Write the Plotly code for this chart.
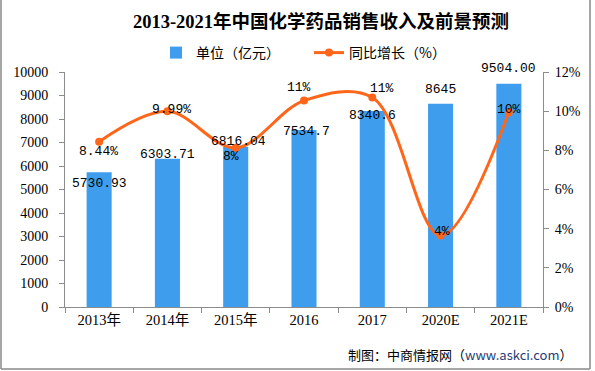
import plotly.graph_objects as go

categories = ["2013年", "2014年", "2015年", "2016", "2017", "2020E", "2021E"]
revenue = [5730.93, 6303.71, 6816.04, 7534.7, 8340.6, 8645, 9504.00]
revenue_labels = ["5730.93", "6303.71", "6816.04", "7534.7", "8340.6", "8645", "9504.00"]
growth = [8.44, 9.99, 8.13, 10.54, 10.70, 3.65, 9.94]
growth_labels = ["8.44%", "9.99%", "8%", "11%", "11%", "4%", "10%"]

# label offsets in pixels (style only)
rev_dx = [0, 0, 3, 2, 0, 0, 0]
rev_dy = [-11, 4, 5, -2, -4, 14, 15]
gr_dx = [-1, 4, -5, -5, 10, 1, 0]
gr_dy = [-10, 2, -9, 13, 9, 4, 3]

W, H = 595, 371
ML, MR, MT, MB = 65, 52, 72, 64
PW, PH = W - ML - MR, H - MT - MB

BLUE = "#3F9DEE"
ORANGE = "#FF661A"
AXIS = "#8C8C8C"
SERIF = "Liberation Serif, Noto Sans CJK SC, serif"
MONO = "Liberation Mono, Noto Sans CJK SC, monospace"

fig = go.Figure()
fig.add_trace(go.Bar(
    x=categories, y=revenue, name="单位（亿元）",
    marker=dict(color=BLUE, line=dict(width=0)), width=0.367,
))
fig.add_trace(go.Scatter(
    x=categories, y=growth, name="同比增长（%）", yaxis="y2",
    mode="lines+markers",
    line=dict(color=ORANGE, width=3, shape="spline", smoothing=1.0),
    marker=dict(color=ORANGE, size=8),
))

ann = []
for i, c in enumerate(categories):
    ann.append(dict(x=i, y=revenue[i], xref="x", yref="y", text=revenue_labels[i],
                    showarrow=False, xanchor="center", yanchor="middle",
                    xshift=rev_dx[i], yshift=rev_dy[i],
                    font=dict(family=MONO, size=13, color="#000")))
    ann.append(dict(x=i, y=growth[i], xref="x", yref="y2", text=growth_labels[i],
                    showarrow=False, xanchor="center", yanchor="middle",
                    xshift=gr_dx[i], yshift=gr_dy[i],
                    font=dict(family=MONO, size=13, color="#000")))

ann.append(dict(x=(575 - ML) / PW, y=(H - MB - 354) / PH, xref="paper", yref="paper",
                xanchor="right", yanchor="middle", showarrow=False,
                text="制图：中商情报网（<span style='color:#1F3C78'>www.askci.com</span>）",
                font=dict(family="Noto Sans CJK SC, sans-serif", size=13, color="#000")))

def px_x(p):
    return (p - ML) / PW

def px_y(p):
    return (H - MB - p) / PH

shapes = [
    dict(type="line", xref="paper", yref="paper", x0=px_x(1), x1=px_x(1), y0=px_y(369), y1=px_y(-5),
         line=dict(color="#888", width=1.5)),
    dict(type="line", xref="paper", yref="paper", x0=px_x(1), x1=px_x(590), y0=px_y(369), y1=px_y(369),
         line=dict(color="#888", width=1.5)),
    dict(type="line", xref="paper", yref="paper", x0=px_x(590), x1=px_x(590), y0=px_y(369), y1=px_y(-5),
         line=dict(color="#888", width=1.5)),
]

fig.update_layout(
    width=W, height=H,
    margin=dict(l=ML, r=MR, t=MT, b=MB),
    paper_bgcolor="white", plot_bgcolor="white",
    title=dict(text="<b>2013-2021年中国化学药品销售收入及前景预测</b>",
               x=321 / W, xref="container", xanchor="center",
               y=1 - 22 / H, yref="container", yanchor="middle",
               font=dict(family=SERIF, size=18.5, color="#000")),
    legend=dict(orientation="h", x=px_x(156), xanchor="left", y=px_y(53), yanchor="middle",
                font=dict(family="Noto Sans CJK SC, sans-serif", size=14, color="#000"),
                bgcolor="rgba(0,0,0,0)", itemwidth=30, tracegroupgap=0,
                entrywidth=108, entrywidthmode="pixels"),
    showlegend=True,
    xaxis=dict(type="category", categoryorder="array", categoryarray=categories,
               range=[-0.5, len(categories) - 0.5], autorange=False,
               showline=True, linecolor=AXIS, linewidth=1,
               ticks="outside", tickson="boundaries", ticklen=5, tickcolor=AXIS,
               showgrid=False, zeroline=False, tickangle=0,
               tickfont=dict(family=SERIF, size=14.5, color="#000")),
    yaxis=dict(range=[0, 10000], dtick=1000, tickformat="d", showline=True, linecolor=AXIS, linewidth=1,
               ticks="outside", ticklen=5, tickcolor=AXIS, showgrid=False, zeroline=False,
               ticklabelstandoff=8,
               tickfont=dict(family=SERIF, size=14, color="#000")),
    yaxis2=dict(range=[0, 12], dtick=2, ticksuffix="%", overlaying="y", side="right",
                showline=True, linecolor=AXIS, linewidth=1, ticks="outside", ticklen=5,
                tickcolor=AXIS, showgrid=False, zeroline=False, ticklabelstandoff=3,
                tickfont=dict(family=SERIF, size=14, color="#000")),
    annotations=ann,
    shapes=shapes,
)

fig.write_html("out.html", config={"displayModeBar": False},
               post_script="document.body.style.margin='0';document.body.style.overflow='hidden';")
